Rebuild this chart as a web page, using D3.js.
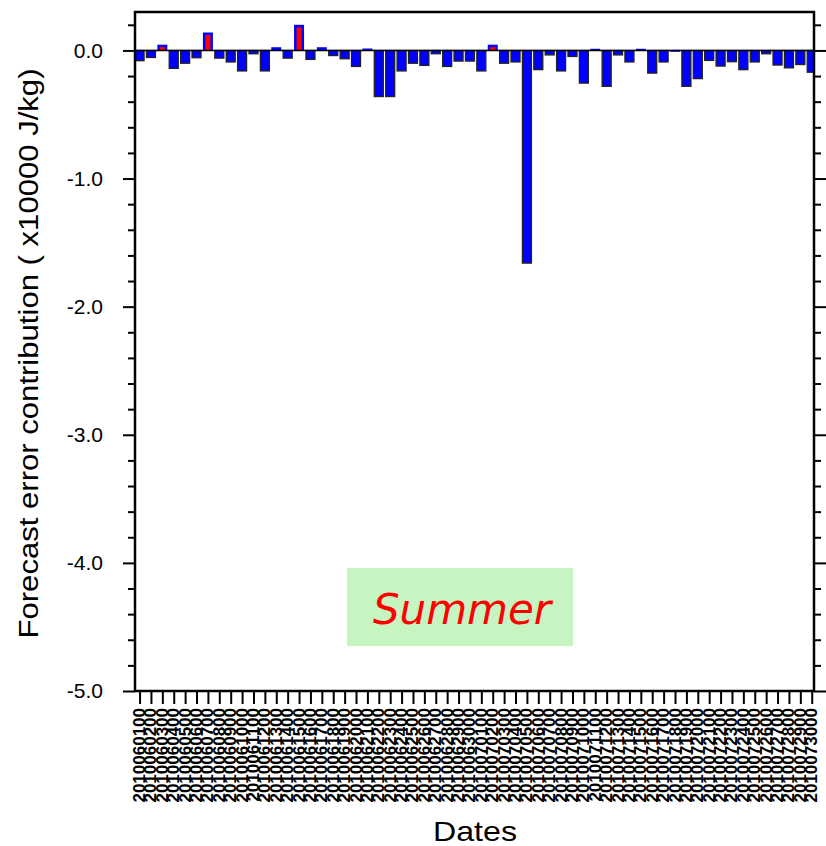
<!DOCTYPE html>
<html>
<head>
<meta charset="utf-8">
<script src="https://cdn.jsdelivr.net/npm/d3@7"></script>
<style>
  html, body { margin: 0; padding: 0; background: #ffffff; }
  svg { display: block; }
</style>
</head>
<body>
<script>
// Forecast cases (YYYYMMDDHH) and their error contributions (x10000 J/kg)
const dates = [
  "2010060100","2010060200","2010060300","2010060400","2010060500",
  "2010060600","2010060700","2010060800","2010060900","2010061000",
  "2010061100","2010061200","2010061300","2010061400","2010061500",
  "2010061600","2010061700","2010061800","2010061900","2010062000",
  "2010062100","2010062200","2010062300","2010062400","2010062500",
  "2010062600","2010062700","2010062800","2010062900","2010063000",
  "2010070100","2010070200","2010070300","2010070400","2010070500",
  "2010070600","2010070700","2010070800","2010070900","2010071000",
  "2010071100","2010071200","2010071300","2010071400","2010071500",
  "2010071600","2010071700","2010071800","2010071900","2010072000",
  "2010072100","2010072200","2010072300","2010072400","2010072500",
  "2010072600","2010072700","2010072800","2010072900","2010073000"
];
const values = [
  -0.08, -0.055, 0.045, -0.14, -0.10, -0.057, 0.14, -0.06, -0.09, -0.16,
  -0.026, -0.16, 0.025, -0.06, 0.20, -0.07, 0.025, -0.04, -0.065, -0.125,
  0.015, -0.36, -0.36, -0.16, -0.10, -0.117, -0.026, -0.125, -0.083, -0.083,
  -0.16, 0.045, -0.10, -0.09, -1.66, -0.15, -0.035, -0.16, -0.047, -0.255,
  0.013, -0.28, -0.035, -0.09, 0.013, -0.177, -0.09, 0.005, -0.28, -0.22,
  -0.078, -0.122, -0.088, -0.15, -0.09, -0.026, -0.114, -0.136, -0.11, -0.17
];
const yMajorTicks = [0, -1, -2, -3, -4, -5];
const yMinorTicks = d3.range(0.2, -5.01, -0.2).map(v => +v.toFixed(1));
const seasonLabel = "Summer";

const W = 826, H = 846;
const plot = { left: 135, right: 814, top: 12, bottom: 691 };

const svg = d3.select("body").append("svg")
  .attr("width", W).attr("height", H)
  .attr("font-family", "'Liberation Sans', Arial, Helvetica, sans-serif");

const x = d3.scaleLinear().domain([0.6, 60.2]).range([plot.left, plot.right]);
const y = d3.scaleLinear().domain([-5, 0.3]).range([plot.bottom, plot.top]);

const barW = 9;
const data = values.map((v, i) => ({ i: i + 1, v, date: dates[i] }));

// clip bars to the plotting frame
svg.append("defs").append("clipPath").attr("id", "plotclip")
  .append("rect")
  .attr("x", plot.left).attr("y", plot.top)
  .attr("width", plot.right - plot.left).attr("height", plot.bottom - plot.top);

const bars = svg.append("g").attr("clip-path", "url(#plotclip)");

// negative contributions: blue with a dark outline
bars.selectAll("rect.neg").data(data.filter(d => d.v < 0)).join("rect")
  .attr("class", "neg")
  .attr("x", d => x(d.i) - barW / 2)
  .attr("y", y(0))
  .attr("width", barW)
  .attr("height", d => y(d.v) - y(0))
  .attr("fill", "#0000ff")
  .attr("stroke", "#222222")
  .attr("stroke-width", 1.3);

// positive contributions: red core with a blue rim
const pos = data.filter(d => d.v > 0);
bars.selectAll("rect.posrim").data(pos).join("rect")
  .attr("class", "posrim")
  .attr("x", d => x(d.i) - barW / 2 - 0.5)
  .attr("y", d => y(d.v))
  .attr("width", barW + 1)
  .attr("height", d => Math.max(2, y(0) - y(d.v)))
  .attr("fill", "#0000ff");
bars.selectAll("rect.poscore").data(pos.filter(d => y(0) - y(d.v) > 4)).join("rect")
  .attr("class", "poscore")
  .attr("x", d => x(d.i) - barW / 2 + 2)
  .attr("y", d => y(d.v) + 2.5)
  .attr("width", barW - 4)
  .attr("height", d => y(0) - y(d.v) - 2.5)
  .attr("fill", "#ff0000");

// zero reference line
svg.append("line")
  .attr("x1", plot.left).attr("x2", plot.right)
  .attr("y1", y(0)).attr("y2", y(0))
  .attr("stroke", "#000").attr("stroke-width", 1.6);

// season label box
const boxX0 = 347, boxX1 = 573;
svg.append("rect")
  .attr("x", boxX0).attr("y", y(-4.04))
  .attr("width", boxX1 - boxX0).attr("height", y(-4.65) - y(-4.04))
  .attr("fill", "#c6f5c2");
svg.append("text")
  .attr("x", (boxX0 + boxX1) / 2 + 2).attr("y", y(-4.47) + 1)
  .attr("text-anchor", "middle")
  .attr("font-family", "'DejaVu Sans', sans-serif")
  .attr("font-style", "italic")
  .attr("font-size", 42)
  .attr("fill", "#ff0000")
  .text(seasonLabel);

// left axis: major + minor ticks
const yAxisL = d3.axisLeft(y).tickValues(yMajorTicks).tickSize(12).tickPadding(20)
  .tickFormat(d3.format(".1f"));
const gL = svg.append("g").attr("transform", `translate(${plot.left},0)`).call(yAxisL);
gL.select(".domain").remove();
gL.selectAll(".tick line").attr("stroke", "#000").attr("stroke-width", 2);
gL.selectAll(".tick text").attr("font-size", 21).attr("fill", "#000")
  .text(d => d === 0 ? "0.0" : d3.format(".1f")(d).replace("−", "-"));
const yAxisLm = d3.axisLeft(y).tickValues(yMinorTicks.filter(v => !yMajorTicks.includes(v)))
  .tickSize(7).tickFormat("");
const gLm = svg.append("g").attr("transform", `translate(${plot.left},0)`).call(yAxisLm);
gLm.select(".domain").remove();
gLm.selectAll(".tick line").attr("stroke", "#000").attr("stroke-width", 2);

// right axis ticks
const yAxisR = d3.axisRight(y).tickValues(yMajorTicks).tickSize(12).tickFormat("");
const gR = svg.append("g").attr("transform", `translate(${plot.right},0)`).call(yAxisR);
gR.select(".domain").remove();
gR.selectAll(".tick line").attr("stroke", "#000").attr("stroke-width", 2);
const yAxisRm = d3.axisRight(y).tickValues(yMinorTicks.filter(v => !yMajorTicks.includes(v)))
  .tickSize(7).tickFormat("");
const gRm = svg.append("g").attr("transform", `translate(${plot.right},0)`).call(yAxisRm);
gRm.select(".domain").remove();
gRm.selectAll(".tick line").attr("stroke", "#000").attr("stroke-width", 2);

// bottom axis with rotated date labels
const xAxis = d3.axisBottom(x).tickValues(data.map(d => d.i)).tickSize(13).tickFormat("");
const gB = svg.append("g").attr("transform", `translate(0,${plot.bottom})`).call(xAxis);
gB.select(".domain").remove();
gB.selectAll(".tick line").attr("stroke", "#000").attr("stroke-width", 2);
svg.append("g").selectAll("text").data(data).join("text")
  .attr("transform", d => `translate(${x(d.i) + 5.5},${plot.bottom + 17}) rotate(-90)`)
  .attr("text-anchor", "end")
  .attr("font-size", 17)
  .attr("font-weight", "bold")
  .attr("fill", "#000")
  .text(d => d.date);

// frame
svg.append("rect")
  .attr("x", plot.left).attr("y", plot.top)
  .attr("width", plot.right - plot.left).attr("height", plot.bottom - plot.top)
  .attr("fill", "none").attr("stroke", "#000").attr("stroke-width", 2.5);

// axis titles
svg.append("text")
  .attr("transform", `translate(38,${(plot.top + plot.bottom) / 2 + 2}) rotate(-90)`)
  .attr("text-anchor", "middle")
  .attr("font-size", 27)
  .attr("textLength", 570)
  .attr("lengthAdjust", "spacingAndGlyphs")
  .attr("fill", "#000")
  .text("Forecast error contribution ( x10000 J/kg)");
svg.append("text")
  .attr("x", 475).attr("y", 841)
  .attr("text-anchor", "middle")
  .attr("font-size", 28)
  .attr("textLength", 84)
  .attr("lengthAdjust", "spacingAndGlyphs")
  .attr("fill", "#000")
  .text("Dates");
</script>
</body>
</html>
